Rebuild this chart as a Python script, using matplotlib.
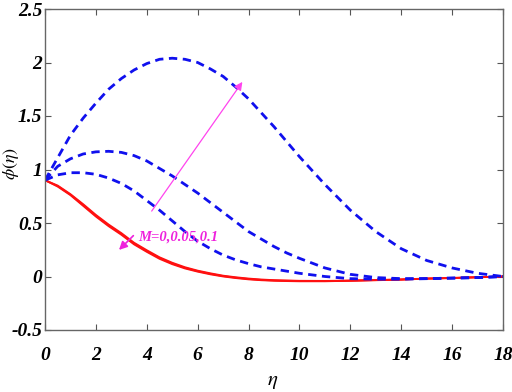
import matplotlib
matplotlib.use("Agg")
import matplotlib.pyplot as plt

plt.rcParams["mathtext.fontset"] = "stix"

eta = [0, 0.5, 1, 1.5, 2, 2.5, 3, 3.5, 4, 4.5, 5, 5.5, 6, 6.5, 7, 7.5, 8, 8.5, 9, 9.5, 10,
       11, 12, 13, 14, 15, 16, 17, 18]

blue_high = [0.90, 1.11, 1.32, 1.48, 1.62, 1.75, 1.85, 1.93, 1.99, 2.03, 2.04, 2.03, 2.00, 1.94, 1.87, 1.77, 1.66, 1.53, 1.40, 1.26, 1.12,
             0.86, 0.62, 0.42, 0.26, 0.15, 0.08, 0.03, 0.0]
blue_mid = [0.90, 1.03, 1.10, 1.145, 1.165, 1.17, 1.16, 1.13, 1.08, 1.01, 0.94, 0.86, 0.78, 0.69, 0.60, 0.51, 0.42, 0.35, 0.28, 0.22, 0.17,
            0.08, 0.02, -0.01, -0.02, -0.02, -0.015, -0.01, 0.0]
blue_low = [0.90, 0.95, 0.97, 0.97, 0.955, 0.92, 0.87, 0.80, 0.71, 0.62, 0.52, 0.42, 0.33, 0.26, 0.20, 0.155, 0.12, 0.09, 0.07, 0.05, 0.03,
            0.0, -0.02, -0.025, -0.025, -0.02, -0.015, -0.01, 0.0]

red_1 = [0.90, 0.84, 0.76, 0.66, 0.56, 0.47, 0.39, 0.30, 0.23, 0.165, 0.115, 0.075, 0.045, 0.02, 0.0, -0.015, -0.027, -0.035, -0.04, -0.043, -0.045,
         -0.045, -0.04, -0.035, -0.03, -0.02, -0.015, -0.008, 0.0]
red_2 = [0.90, 0.845, 0.765, 0.668, 0.568, 0.478, 0.398, 0.308, 0.238, 0.173, 0.122, 0.081, 0.05, 0.025, 0.004, -0.011, -0.023, -0.032, -0.037, -0.04, -0.042,
         -0.043, -0.039, -0.034, -0.028, -0.02, -0.014, -0.007, 0.0]
red_3 = [0.90, 0.85, 0.77, 0.676, 0.576, 0.486, 0.406, 0.316, 0.246, 0.18, 0.129, 0.087, 0.055, 0.03, 0.008, -0.007, -0.019, -0.028, -0.034, -0.037, -0.04,
         -0.041, -0.038, -0.033, -0.027, -0.019, -0.013, -0.006, 0.0]

xticks = list(range(0, 19, 2))
yticks = [-0.5, 0, 0.5, 1, 1.5, 2, 2.5]
ytick_labels = ["-0.5", "0", "0.5", "1", "1.5", "2", "2.5"]

fig = plt.figure(figsize=(5.12, 3.92), dpi=100)
ax = fig.add_axes([45/512, 62/392, 458/512, 321/392])

for r in (red_1, red_2, red_3):
    ax.plot(eta, r, color="#FF1010", lw=1.3, solid_joinstyle="round")
for b in (blue_high, blue_mid, blue_low):
    ax.plot(eta, b, color="#1010EE", lw=2.0, ls=(0, (3, 2)))

ax.set_xlim(0, 18)
ax.set_ylim(-0.5, 2.5)
ax.set_xticks(xticks)
ax.set_yticks(yticks)
ax.set_yticklabels(ytick_labels)
ax.tick_params(direction="in", top=True, right=True, length=4, color="#555555")
ax.tick_params(axis="x", pad=12)
ax.tick_params(axis="y", pad=2)
for s in ax.spines.values():
    s.set_color("#666666")
    s.set_linewidth(1.0)

for lab in ax.get_xticklabels() + ax.get_yticklabels():
    lab.set_fontfamily("Liberation Serif")
    lab.set_fontweight("bold")
    lab.set_fontstyle("italic")
    lab.set_fontsize(14)

ax.set_xlabel(r"$\eta$", fontsize=15)
ax.set_ylabel(r"$\phi(\eta)$", fontsize=13)
ax.xaxis.set_label_coords((273 - 45) / 458, -(371 - 330) / 321)
ax.yaxis.set_label_coords(-(45 - 21) / 458, 0.52)

mag = "#EE22DD"
ax.annotate("", xy=(7.82, 1.84), xytext=(4.13, 0.59),
            arrowprops=dict(arrowstyle="-|>", color="#FF44EE", lw=0.9, mutation_scale=12))
ax.annotate("", xy=(2.83, 0.23), xytext=(3.55, 0.40),
            arrowprops=dict(arrowstyle="-|>", color=mag, lw=1.2, mutation_scale=12))
ax.text(3.66, 0.37, "M=0,0.05,0.1", color=mag, fontfamily="Liberation Serif",
        fontweight="bold", fontstyle="italic", fontsize=10.5, va="center", ha="left")

fig.savefig("out.png", dpi=100)
